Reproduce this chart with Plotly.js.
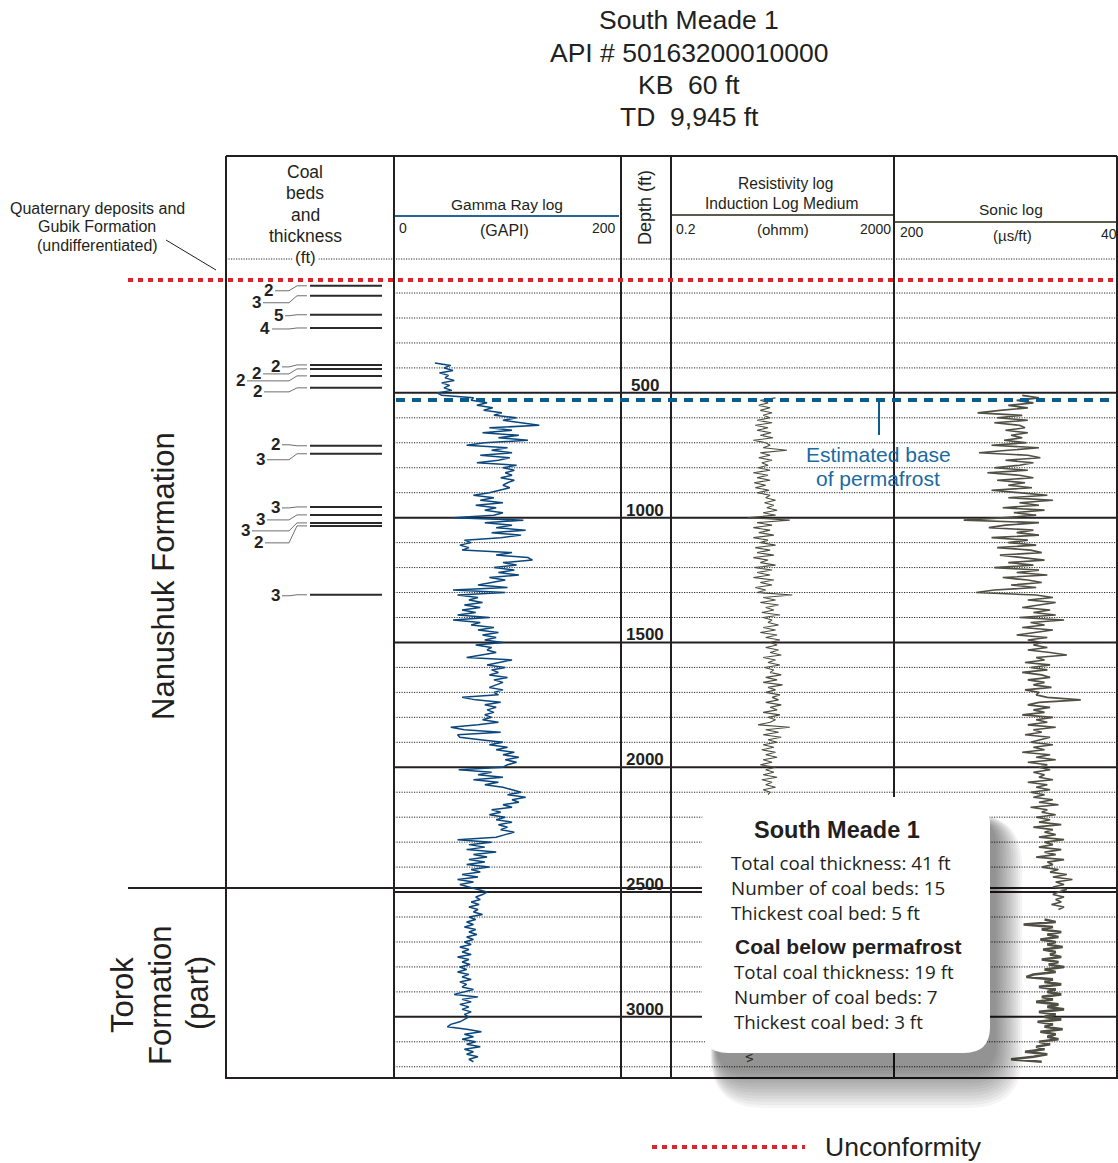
<!DOCTYPE html>
<html><head><meta charset="utf-8">
<script src="https://cdn.plot.ly/plotly-3.0.1.min.js"></script>
<style>body{margin:0;background:#fff}#chart{width:1118px;height:1163px}</style>
</head><body><div id="chart"></div>
<script>
// ---------------- DATA ----------------
// Gamma ray log (GAPI), sampled every 10 ft from 380 ft
const grDepthStart = 380, grDepthStep = 10;
const gammaRay = [
36,50,44,52,40,48,45,53,42,49,
44,51,38,42,70,68,82,73,87,79,
95,88,108,96,112,128,84,104,78,110,
92,118,80,64,100,86,104,76,102,92,
73,108,96,106,98,104,94,106,100,96,
102,92,84,70,88,76,96,72,90,80,
96,88,52,114,80,104,90,116,86,112,
94,62,68,58,66,60,104,90,118,122,
96,108,88,106,92,110,84,98,86,74,
100,52,98,56,74,66,78,62,76,60,
72,56,84,52,76,68,88,74,92,78,
90,80,96,72,86,82,90,76,64,104,
94,82,98,86,92,84,100,88,96,90,
84,96,88,92,60,72,94,80,90,82,
88,80,86,78,92,74,50,62,94,56,
58,76,96,84,100,90,106,96,110,98,
108,100,96,57,86,74,96,70,92,80,
96,104,112,100,116,104,110,96,104,86,
94,84,98,90,104,92,100,94,106,98,
90,56,86,66,80,64,90,70,82,66,
80,64,84,68,76,60,74,56,70,58,
66,76,82,78,72,76,68,75,66,74,
70,78,66,72,64,70,62,72,66,73,
64,70,62,68,58,66,60,68,56,66,
60,67,58,64,56,66,60,68,58,64,
60,70,62,53,74,60,68,58,66,60,
68,62,66,62,58,50,47,64,77,62,
70,60,72,64,76,62,70,64,74,66,
70];

// Resistivity (ohmm), every 10 ft from 520 ft (visible part above the summary box)
const resDepthStart = 520, resDepthStep = 10;
const resistivity = [
15,8,11,7.5,12,8,13,9,12,7,
13,6.5,11,7,12.5,8,13.5,6,10,12,
9,24,8,12,7.5,13,8.5,11,7.3,12,
6,11,7,12,6.2,10,6.5,11.5,7,12,
10,15,9.5,14,10.5,16,9,15,4.8,27,
7,13,6,12,7.5,14,6,11,8,15,
6.5,12,7,14,6,11,8,15,6.2,13,
7,12,6,14,8,13,6.5,10,7,30,
9,15,8,17,10,14,8.5,18,9,13,
11,17,9,15,8,16,10,18,12,16,
10,17,12,19,9,15,11,18,9.5,14,
12,19,10,16,9,20,11,15,10,18,
13,17,10,19,12,16,9,18,11,15,
12,7.3,27,10,17,9,19,11,16,9,
14,8.5,15,10,16,9,13,8,15,10,
14,9,16,8.5,13,10,15,9,12,11];
// Resistivity visible below the summary box
const resBottomDepthStart = 3150;
const resistivityBottom = [5.8,4.4,5.9,4.6];

// Sonic log (us/ft), every 10 ft
const sonicDepthStart = 510, sonicDepthStep = 10;
const sonicUpper = [
108,96,112,100,118,104,124,140,108,126,
104,128,110,106,120,104,116,108,121,105,
130,96,118,139,104,95,120,100,110,128,
104,133,110,100,126,106,118,101,130,112,
90,118,86,110,96,122,92,114,98,120,
150,96,120,132,100,112,96,130,104,118,
98,126,102,94,124,108,92,118,100,128,
96,112,90,122,104,94,116,98,128,141,
98,86,104,84,96,108,88,100,84,110,
78,102,92,108,86,98,112,90,104,94,
100,90,104,88,76,98,92,106,88,102,
90,108,94,88,104,92,100,87,106,96,
98,90,66,96,104,88,100,92,108,86,
98,90,104,84,100,94,106,88,96,102,
86,100,92,108,88,98,84,104,90,96,
88,100,92,96,86,104,90,98,88,102,
92,100,86,96,82,102,90,94,84,98,
88,96,80,100,86,92,84,96,78,92,
86,96,80,92,84,98,78,90,86,94,
82,88,76,86,72,84,78,86,76,82,
86,78,84,80,87,78,82];
const sonicLowerDepthStart = 2610;
const sonicLower = [
92,84,107,86,94,80,90,82,95,84,
90,79,93,84,88,80,94,82,89,78,
92,84,100,105,86,92,80,96,84,90,
80,94,86,98,82,90,78,96,84,92,
80,97,86,92,79,95,84,90,82,96,
88,98,92,106,90,100,116,94];

// Coal beds: depth (ft) and thickness (ft)
const coalDepth = [71,111,187,240,388,404,432,480,712,744,957,989,1021,1033,1309];
const coalThickness = [2,3,5,4,2,2,2,2,2,3,3,3,3,2,3];

// Horizons (ft)
const unconformityDepth = 48;
const permafrostBaseDepth = 529;
const formationBoundaryDepth = 2484;
const depthLabels = [500,1000,1500,2000,2500,3000];

// Summary text
const summaryTitle = 'South Meade 1';
const summaryLines = ['Total coal thickness: 41 ft','Number of coal beds: 15','Thickest coal bed: 5 ft'];
const belowTitle = 'Coal below permafrost';
const belowLines = ['Total coal thickness: 19 ft','Number of coal beds: 7','Thickest coal bed: 3 ft'];

// ---------------- LAYOUT HELPERS ----------------
const W = 1118, H = 1163;
const PX = v => v / W, PY = v => 1 - v / H;
const FONT = 'Liberation Sans, Arial, sans-serif';
const seq = (start, step, n) => Array.from({length:n}, (_, i) => start + i*step);

// coal label placement (layout only): label x (px) and vertical offset (ft)
const coalLabelX = [268,256,278,265,275,256,240,257,275,260,275,260,245,258,275];
const coalLabelOffsetFt = [20,28,4,4,8,20,20,16,-4,24,4,20,32,68,4];

const shapes = [];
const annotations = [];
function lineP(x0,y0,x1,y1,color,width,dash,layer){
  shapes.push({type:'line',xref:'paper',yref:'paper',x0:PX(x0),x1:PX(x1),y0:PY(y0),y1:PY(y1),
    line:{color,width,dash:dash||'solid'},layer:layer||'above'});
}
function lineD(x0,d0,x1,d1,color,width,dash,layer){
  shapes.push({type:'line',xref:'paper',yref:'y',x0:PX(x0),x1:PX(x1),y0:d0,y1:d1,
    line:{color,width,dash:dash||'solid'},layer:layer||'above'});
}
function ann(text,x,y,size,opts){
  annotations.push(Object.assign({text,xref:'paper',yref:'paper',x:PX(x),y:PY(y),showarrow:false,
    xanchor:'center',yanchor:'middle',font:{family:FONT,size,color:'#231f20'}},opts||{}));
}

// dotted depth grid every 100 ft
for (let d=100; d<=3200; d+=100){ if (d%500) lineD(394,d,1117,d,'#2a2a2a',1,'1.2px,1.3px','below'); }
// header bottom dotted line
lineP(226,259,1117,259,'#2a2a2a',1,'1.2px,1.3px','below');
// 500-ft solid lines
depthLabels.forEach(d => lineD(394,d,1117,d,'#231f20',2,'solid','below'));
// formation boundary
lineD(128,formationBoundaryDepth,1117,formationBoundaryDepth,'#231f20',2,'solid','below');

// coal beds
coalDepth.forEach((d,i) => {
  lineD(310,d,382,d,'#2a2a2a',2,'solid','below');
  const ly = d + coalLabelOffsetFt[i];
  const x1 = coalLabelX[i] + 7;
  shapes.push({type:'path',xref:'paper',yref:'y',layer:'below',
    path:`M${PX(x1)},${ly} L${PX(289)},${ly} L${PX(297)},${d} L${PX(307)},${d}`,
    line:{color:'#6e6e6e',width:1}});
  annotations.push({text:'<b>'+coalThickness[i]+'</b>',xref:'paper',yref:'y',x:PX(coalLabelX[i]),y:ly,
    showarrow:false,xanchor:'center',yanchor:'middle',font:{family:FONT,size:17,color:'#231f20'}});
});

// header colour bars
lineP(394,216,619,216,'#2a6496',2);
lineP(671,215,893,215,'#5c5c4c',2);
lineP(894,222,1117,222,'#5c5c4c',2);

// frame
[226,394,621,671,894,1117].forEach(x => lineP(x,156,x,1079,'#231f20',2));
lineP(226,156,1117,156,'#231f20',2);
lineP(226,1078,1117,1078,'#231f20',2);

// unconformity & permafrost
lineD(128,unconformityDepth,1117,unconformityDepth,'#d9262c',4,'5px,5px');
lineD(396,permafrostBaseDepth,1112,permafrostBaseDepth,'#0b5c8e',4,'9px,7px');
shapes.push({type:'line',xref:'paper',yref:'y',x0:PX(879),x1:PX(879),y0:permafrostBaseDepth,y1:permafrostBaseDepth+140,
  line:{color:'#0b5c8e',width:2},layer:'above'});

// Quaternary leader
lineP(166,240,216,270,'#231f20',1);

// summary box with soft shadow (bottom-right)
function rrect(x0,y0,x1,y1,r){
  const P=(x,y)=>PX(x)+','+PY(y);
  return `M${P(x0+r,y0)} L${P(x1-r,y0)} Q${P(x1,y0)} ${P(x1,y0+r)} L${P(x1,y1-r)} Q${P(x1,y1)} ${P(x1-r,y1)} L${P(x0+r,y1)} Q${P(x0,y1)} ${P(x0,y1-r)} L${P(x0,y0+r)} Q${P(x0,y0)} ${P(x0+r,y0)} Z`;
}
for (let k=12;k>=0;k--){
  const e=k*2.2;
  shapes.push({type:'path',xref:'paper',yref:'paper',layer:'above',
    path:rrect(702+14-0.2*e,797+22-0.2*e,990+6+e,1053+18+1.4*e,26+e),
    fillcolor:'rgba(0,0,0,0.04)',line:{width:0}});
}
shapes.push({type:'path',xref:'paper',yref:'paper',layer:'above',path:rrect(702,797,990,1053,26),
  fillcolor:'#ffffff',line:{width:0}});

// legend
lineP(652,1147,805,1147,'#d9262c',4,'5px,5px');
ann('Unconformity',823,1147,26.5,{xanchor:'left'});

// titles
ann('South Meade 1',689,20,26.5);
ann('API # 50163200010000',689,53,26.5);
ann('KB\u00a0\u00a060 ft',689,85,26.5);
ann('TD\u00a0\u00a09,945 ft',689,117,26.5);

// track headers
['Coal','beds','and','thickness'].forEach((t,i)=>ann(t,305,172+i*21.3,17.5));
ann('(ft)',305,258,17,{bgcolor:'#ffffff',borderpad:2});
ann('Gamma Ray log',507,205,15.5);
ann('0',397,228,14,{xanchor:'left'});
ann('(GAPI)',504,230,16);
ann('200',618,228,14,{xanchor:'right'});
ann('Depth (ft)',645,207,18,{textangle:-90});
ann('Resistivity log',785,183,15.6);
ann('Induction Log Medium',781,204,15.6);
ann('0.2',674,229,14,{xanchor:'left'});
ann('(ohmm)',783,229,15);
ann('2000',893,229,14,{xanchor:'right'});
ann('Sonic log',1011,209,15.5);
ann('200',898,232,14,{xanchor:'left'});
ann('(\u00b5s/ft)',1012,236,15);
ann('40',1119,234,14,{xanchor:'right'});

// left labels
ann('Quaternary deposits and',97,208,16);
ann('Gubik Formation',97,226,16);
ann('(undifferentiated)',97,245,16);
ann('Nanushuk Formation',163,576,31,{textangle:-90});
ann('Torok',122,995,31,{textangle:-90});
ann('Formation',160,995,31,{textangle:-90});
ann('(part)',197,993,31,{textangle:-90});

// permafrost label
ann('Estimated base',878,454,21,{font:{family:FONT,size:21,color:'#1b6aa1'}});
ann('of permafrost',878,479,21,{font:{family:FONT,size:21,color:'#1b6aa1'}});

// depth labels
depthLabels.forEach(d => annotations.push({text:'<b>'+d+'</b>',xref:'paper',yref:'y',x:PX(645),y:d,
  yanchor:'bottom',xanchor:'center',yshift:-4,showarrow:false,font:{family:FONT,size:17,color:'#231f20'}}));

// summary text
const BOXF = 'Open Sans, Noto Sans, sans-serif';
ann('<b>'+summaryTitle+'</b>',837,830,23.5);
summaryLines.forEach((t,i)=>ann(t,729,863+i*25,18.8,{xanchor:'left',font:{family:BOXF,size:18.8,color:'#231f20'}}));
ann('<b>'+belowTitle+'</b>',733,946,21,{xanchor:'left'});
belowLines.forEach((t,i)=>ann(t,732,972+i*25,18.8,{xanchor:'left',font:{family:BOXF,size:18.8,color:'#231f20'}}));

// ---------------- TRACES ----------------
const traces = [
  {x:gammaRay, y:seq(grDepthStart,grDepthStep,gammaRay.length), xaxis:'x', yaxis:'y', mode:'lines',
   line:{color:'#0b477d',width:1.5}},
  {x:resistivity, y:seq(resDepthStart,resDepthStep,resistivity.length), xaxis:'x2', yaxis:'y', mode:'lines',
   line:{color:'#4d4d3f',width:1.1}},
  {x:resistivityBottom, y:seq(resBottomDepthStart,resDepthStep,resistivityBottom.length), xaxis:'x2', yaxis:'y', mode:'lines',
   line:{color:'#4d4d3f',width:1.1}},
  {x:sonicUpper, y:seq(sonicDepthStart,sonicDepthStep,sonicUpper.length), xaxis:'x3', yaxis:'y', mode:'lines',
   line:{color:'#4f4f43',width:1.6}},
  {x:sonicLower, y:seq(sonicLowerDepthStart,sonicDepthStep,sonicLower.length), xaxis:'x3', yaxis:'y', mode:'lines',
   line:{color:'#4f4f43',width:2.6}}
];

const layout = {
  width:W, height:H, margin:{l:0,r:0,t:0,b:0,pad:0},
  paper_bgcolor:'#ffffff', plot_bgcolor:'rgba(0,0,0,0)',
  showlegend:false, hovermode:false,
  xaxis:{domain:[PX(394),PX(621)],range:[0,200],visible:false,anchor:'y'},
  xaxis2:{domain:[PX(671),PX(894)],type:'log',range:[Math.log10(0.2),Math.log10(2000)],visible:false,anchor:'y'},
  xaxis3:{domain:[PX(894),PX(1117)],range:[200,40],visible:false,anchor:'y'},
  yaxis:{domain:[PY(1079),PY(156)],range:[3249,-449],autorange:false,visible:false,anchor:'x'},
  shapes, annotations
};
Plotly.newPlot('chart', traces, layout, {staticPlot:true, displayModeBar:false});
</script></body></html>
